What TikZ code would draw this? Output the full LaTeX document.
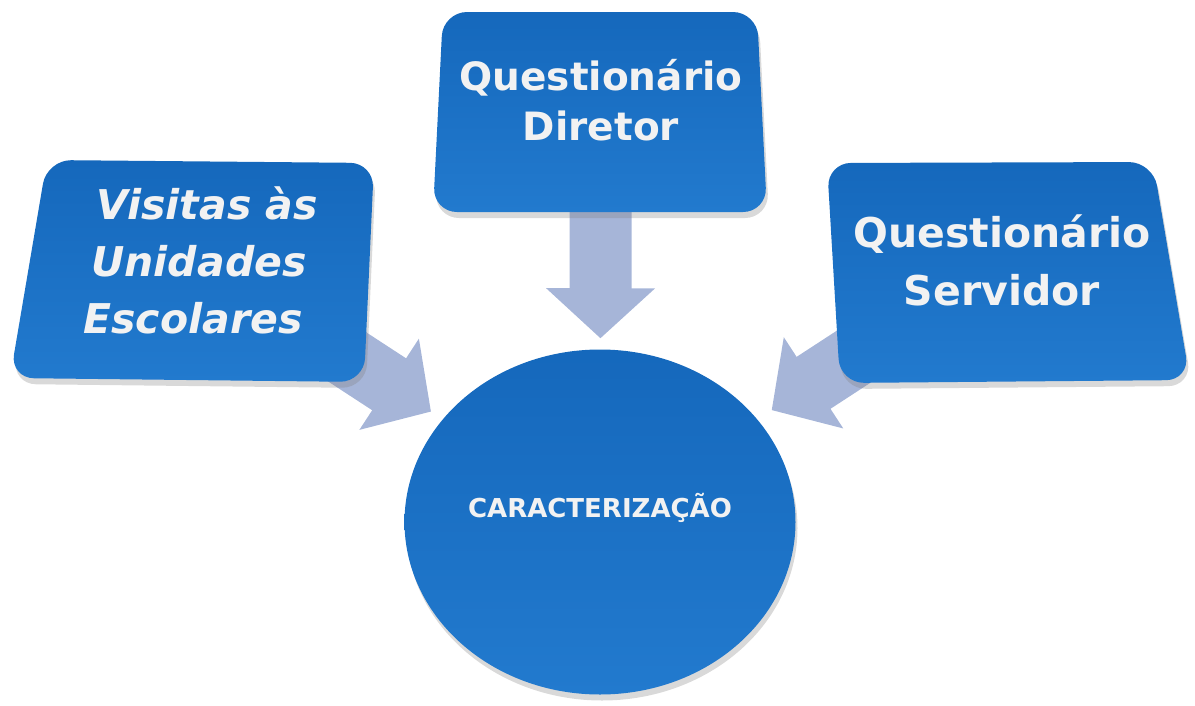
\documentclass[tikz,border=0pt]{standalone}
\usepackage{fontspec}
\setmainfont{DejaVu Sans}
\usetikzlibrary{positioning}
\usetikzlibrary{arrows.meta}
\usetikzlibrary{shapes.geometric}
\usetikzlibrary{shadows}
\usetikzlibrary{backgrounds}
\definecolor{boxblue}{RGB}{21,104,188}
\definecolor{boxlight}{RGB}{34,122,206}
\definecolor{arrowblue}{RGB}{166,181,216}
\definecolor{textwhite}{RGB}{242,242,242}

\begin{document}
\begin{tikzpicture}[x=1pt, y=-1pt, >=latex,
    box/.style={top color=boxblue, bottom color=boxlight, rounded corners=24pt,
        drop shadow={opacity=0.3, shadow xshift=2pt, shadow yshift=-6pt}},
    boxtext/.style={text=textwhite, align=center, inner sep=0pt},
    flow/.style={line width=62pt, draw=arrowblue, -{Triangle[length=50pt, width=106pt]}}
]
\useasboundingbox (0,0) rectangle (1195,705);

% --- boxes ---
\path[box] (47,160) -- (374,163) -- (364,382) -- (10,378) -- cycle;
\path[box] (443,12) -- (757,12) -- (767,212) -- (433,212) -- cycle;
\path[box] (827,163) -- (1153,162) -- (1190,380) -- (840,383) -- cycle;

\node[boxtext, font=\bfseries\itshape\fontsize{41}{57}\selectfont] (visitas) at (199,260)
    {\kern16pt Visitas às\\Unidades\\Escolares\kern12pt};
\node[boxtext, font=\bfseries\fontsize{39}{50}\selectfont] (diretor) at (601,100) {Questionário\\Diretor};
\node[boxtext, font=\bfseries\fontsize{41}{58}\selectfont] (servidor) at (1002,260) {Questionário\\Servidor};

% --- centre ---
\node[ellipse, top color=boxblue, bottom color=boxlight, minimum width=391pt, minimum height=345pt,
    inner sep=0pt, text=textwhite, font=\bfseries\fontsize{26}{30}\selectfont,
    text height=19pt, text depth=28pt,
    drop shadow={opacity=0.3, shadow xshift=2pt, shadow yshift=-6pt}] (carac) at (600,522) {CARACTERIZAÇÃO};

% --- arrows ---
\begin{scope}[on background layer]
    \draw[flow, shorten >=11pt] (diretor) -- (carac);
    \draw[flow, shorten >=14pt] (visitas) -- (carac);
    \draw[flow, shorten >=17pt] (servidor) -- (carac);
\end{scope}
\end{tikzpicture}
\end{document}
